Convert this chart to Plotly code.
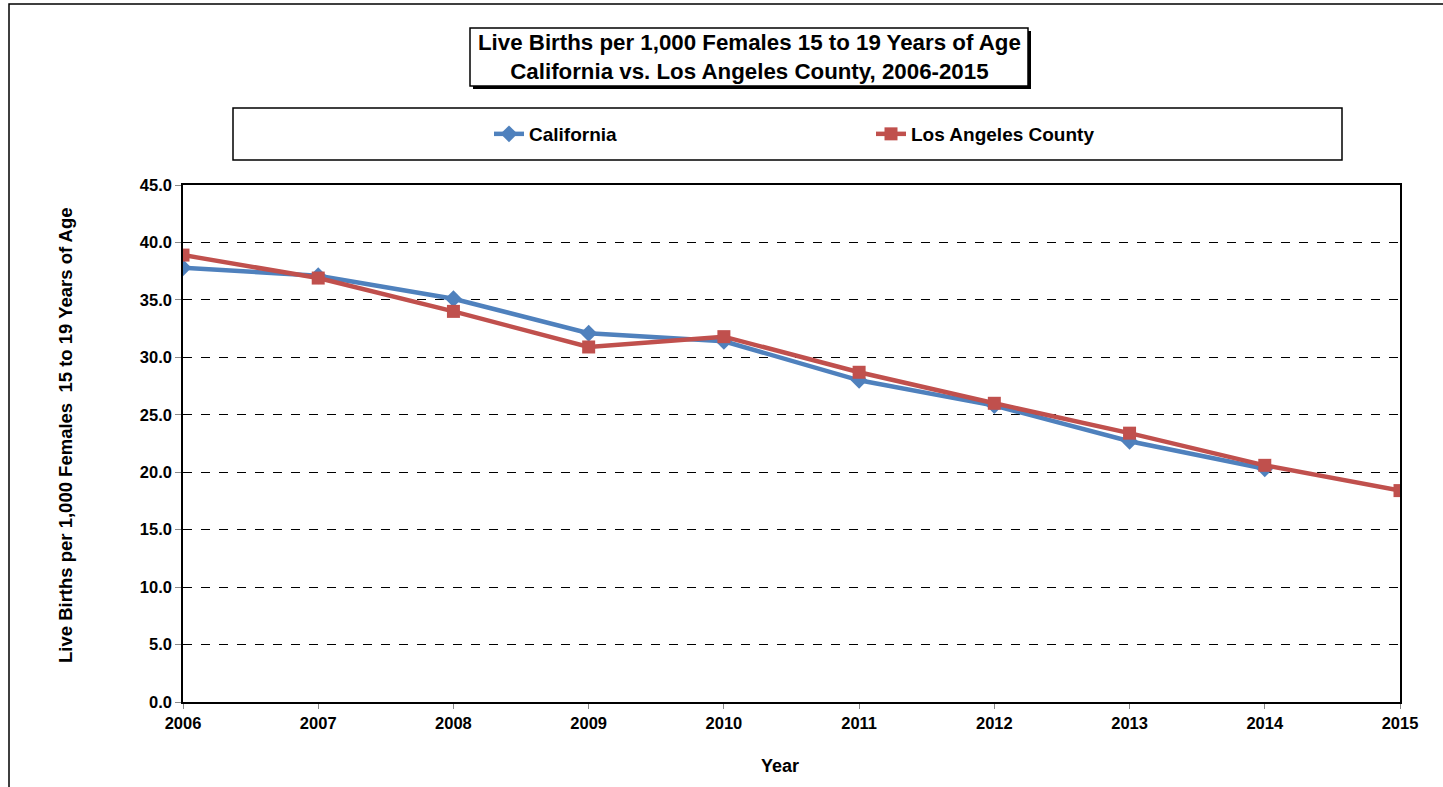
import plotly.graph_objects as go

years = [2006, 2007, 2008, 2009, 2010, 2011, 2012, 2013, 2014, 2015]
california = [37.8, 37.1, 35.1, 32.1, 31.4, 28.0, 25.8, 22.7, 20.3, None]
la_county = [38.9, 36.9, 34.0, 30.9, 31.8, 28.7, 26.0, 23.4, 20.6, 18.4]

title_lines = ["Live Births per 1,000 Females 15 to 19 Years of Age",
               "California vs. Los Angeles County, 2006-2015"]
y_title = "Live Births per 1,000 Females  15 to 19 Years of Age"
x_title = "Year"

W, H = 1443, 787
L, R, T, B = 183, 1400, 185, 702


def px(x):
    return (x - L) / (R - L)


def py(y):
    return (B - y) / (B - T)


FONT = "Liberation Sans, Arial, sans-serif"

fig = go.Figure()
fig.add_trace(go.Scatter(
    x=years, y=california, name="California", mode="lines+markers",
    line=dict(color="#4F81BD", width=4.5),
    marker=dict(symbol="diamond", size=13, color="#4F81BD"),
))
fig.add_trace(go.Scatter(
    x=years, y=la_county, name="Los Angeles County", mode="lines+markers",
    line=dict(color="#C0504D", width=4.5),
    marker=dict(symbol="square", size=13, color="#C0504D"),
))

shapes = [
    # outer chart border
    dict(type="rect", xref="paper", yref="paper", x0=px(9), x1=px(1470), y0=py(820), y1=py(4),
         line=dict(color="black", width=1.5), fillcolor="rgba(0,0,0,0)", layer="below"),
    # title shadow and box
    dict(type="rect", xref="paper", yref="paper", x0=px(473), x1=px(1031), y0=py(89), y1=py(31),
         line=dict(color="black", width=0), fillcolor="black"),
    dict(type="rect", xref="paper", yref="paper", x0=px(470), x1=px(1028), y0=py(86), y1=py(28),
         line=dict(color="black", width=1.5), fillcolor="white"),
    # legend box
    dict(type="rect", xref="paper", yref="paper", x0=px(233), x1=px(1342), y0=py(160), y1=py(108),
         line=dict(color="black", width=1.5), fillcolor="rgba(0,0,0,0)"),
]

annotations = [
    dict(xref="paper", yref="paper", x=px(749), y=py(57), xanchor="center", yanchor="middle",
         text="<br>".join(title_lines), showarrow=False, align="center",
         font=dict(family=FONT, size=22.3, color="black", weight="bold")),
    dict(xref="paper", yref="paper", x=px(65), y=py(435), xanchor="center", yanchor="middle",
         text=y_title, textangle=-90, showarrow=False,
         font=dict(family=FONT, size=18.5, color="black", weight="bold")),
    dict(xref="paper", yref="paper", x=px(780), y=py(766), xanchor="center", yanchor="middle",
         text=x_title, showarrow=False,
         font=dict(family=FONT, size=18, color="black", weight="bold")),
]

fig.update_layout(
    width=W, height=H,
    margin=dict(l=L, r=W - R, t=T, b=H - B, pad=0),
    paper_bgcolor="white", plot_bgcolor="white",
    font=dict(family=FONT, color="black"),
    shapes=shapes, annotations=annotations,
    showlegend=True,
    legend=dict(orientation="h", x=px(489), y=py(134), xanchor="left", yanchor="middle",
                entrywidth=337, entrywidthmode="pixels",
                font=dict(family=FONT, size=19, color="black", weight="bold"),
                bgcolor="rgba(0,0,0,0)"),
    xaxis=dict(range=[2006, 2015], dtick=1, tick0=2006, tickformat="d",
               showline=True, mirror=True, linecolor="black", linewidth=1.5,
               ticks="outside", ticklen=5, tickcolor="#888", showgrid=False, zeroline=False,
               tickfont=dict(family=FONT, size=16.5, color="black", weight="bold")),
    yaxis=dict(range=[0, 45], dtick=5, tickformat=".1f",
               showline=True, mirror=True, linecolor="black", linewidth=1.5,
               ticks="outside", ticklen=6, tickcolor="#888",
               showgrid=True, gridcolor="black", griddash="dash", gridwidth=1, zeroline=False,
               tickfont=dict(family=FONT, size=16.5, color="black", weight="bold")),
)

fig.write_html("out.html", config={"displayModeBar": False},
               post_script="document.body.style.margin='0';")
